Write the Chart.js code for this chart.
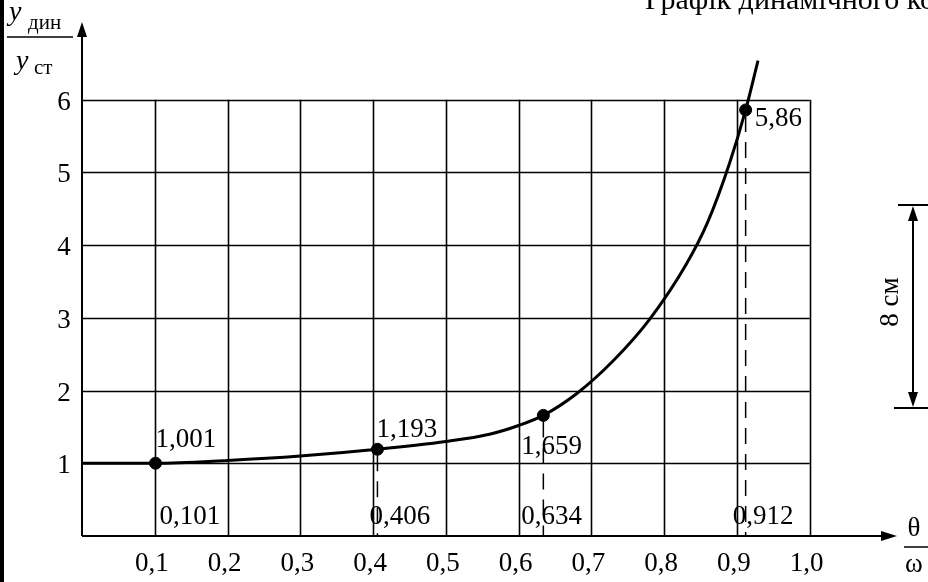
<!DOCTYPE html>
<html>
<head>
<meta charset="utf-8">
<script src="https://cdn.jsdelivr.net/npm/chart.js@4"></script>
<style>
  html, body { margin: 0; padding: 0; background: #fff; }
  canvas { display: block; }
</style>
</head>
<body>
<canvas id="dyn-chart" width="928" height="582"></canvas>
<script>
// grid ticks
const xTicks = [0.1, 0.2, 0.3, 0.4, 0.5, 0.6, 0.7, 0.8, 0.9, 1.0];
const yTicks = [1, 2, 3, 4, 5, 6];

// smooth curve y_dyn / y_st over theta / omega
const curveX = [0, 0.101, 0.2, 0.3, 0.406, 0.5, 0.56, 0.6, 0.634, 0.68, 0.73, 0.78, 0.83, 0.86, 0.89, 0.912, 0.929];
const curveY = [1, 1.001, 1.04, 1.10, 1.193, 1.30, 1.40, 1.52, 1.659, 1.96, 2.41, 2.98, 3.73, 4.32, 5.13, 5.86, 6.54];

// calculated points
const pointX = [0.101, 0.406, 0.634, 0.912];
const pointY = [1.001, 1.193, 1.659, 5.86];

const comma = v => String(v).replace('.', ',');
const FONT = '"Liberation Serif", "Times New Roman", serif';

// label placement around each point: value offset (vx, vy), abscissa offset ax, dashed drop or not
const labelPos = [
    { vx: 0, vy: -16, ax: 4, drop: false },
    { vx: -1, vy: -12, ax: -8, drop: true },
    { vx: -22, vy: 39, ax: -22, drop: true },
    { vx: 9, vy: 16, ax: -13, drop: true },
];

function line(ctx, x1, y1, x2, y2) {
    ctx.beginPath();
    ctx.moveTo(x1, y1);
    ctx.lineTo(x2, y2);
    ctx.stroke();
}

function arrowHead(ctx, x, y, dir) {
    // dir: 'up', 'down', 'right'
    ctx.beginPath();
    if (dir === 'up') {
        ctx.moveTo(x, y); ctx.lineTo(x - 5, y + 15); ctx.lineTo(x + 5, y + 15);
    } else if (dir === 'down') {
        ctx.moveTo(x, y); ctx.lineTo(x - 5, y - 15); ctx.lineTo(x + 5, y - 15);
    } else {
        ctx.moveTo(x, y); ctx.lineTo(x - 16, y - 5); ctx.lineTo(x - 16, y + 5);
    }
    ctx.closePath();
    ctx.fill();
}

const paper = {
    id: 'paper',
    beforeDatasetsDraw(chart) {
        const { ctx, chartArea, scales: { x, y } } = chart;
        const x0 = x.getPixelForValue(0);
        const y0 = y.getPixelForValue(0);
        const gx = x.getPixelForValue(xTicks[xTicks.length - 1]);
        const gy = y.getPixelForValue(yTicks[yTicks.length - 1]);

        ctx.save();
        ctx.strokeStyle = '#000';
        ctx.fillStyle = '#000';

        // page border on the left
        ctx.lineWidth = 4;
        line(ctx, 2, 0, 2, chart.height);

        // grid
        ctx.lineWidth = 1.6;
        xTicks.forEach(v => {
            const px = Math.round(x.getPixelForValue(v)) + 0.5;
            line(ctx, px, y0, px, gy);
        });
        yTicks.forEach(v => {
            const py = Math.round(y.getPixelForValue(v)) + 0.5;
            line(ctx, x0, py, gx, py);
        });

        // axes with arrows
        ctx.lineWidth = 2;
        line(ctx, x0, y0, x0, chartArea.top + 8);
        arrowHead(ctx, x0, chartArea.top, 'up');
        line(ctx, x0, y0, chartArea.right - 8, y0);
        arrowHead(ctx, chartArea.right, y0, 'right');

        // dashed drops from the points to the abscissa
        ctx.lineWidth = 1.5;
        ctx.setLineDash([16, 10]);
        pointX.forEach((v, i) => {
            if (!labelPos[i].drop) return;
            const px = x.getPixelForValue(v);
            line(ctx, px, y.getPixelForValue(pointY[i]) + 6, px, y0);
        });
        ctx.restore();
    },
    afterDatasetsDraw(chart) {
        const { ctx, scales: { x, y } } = chart;
        const x0 = x.getPixelForValue(0);
        const y0 = y.getPixelForValue(0);

        ctx.save();
        ctx.fillStyle = '#000';
        ctx.strokeStyle = '#000';
        ctx.font = `27px ${FONT}`;
        ctx.textBaseline = 'alphabetic';

        // tick labels
        ctx.textAlign = 'center';
        xTicks.forEach(v => {
            ctx.fillText(v.toFixed(1).replace('.', ','), x.getPixelForValue(v) - 3, y0 + 35);
        });
        yTicks.forEach(v => {
            ctx.fillText(String(v), x0 - 18, y.getPixelForValue(v) + 10);
        });

        // point values
        ctx.textAlign = 'left';
        pointX.forEach((v, i) => {
            const px = x.getPixelForValue(v);
            const py = y.getPixelForValue(pointY[i]);
            const p = labelPos[i];
            ctx.fillText(comma(pointY[i]), px + p.vx, py + p.vy);
            ctx.fillText(comma(v), px + p.ax, y0 - 12);
        });

        // ordinate title y_дин / y_ст
        ctx.font = `italic 28px ${FONT}`;
        ctx.fillText('y', 9, 20);
        ctx.fillText('y', 16, 69);
        ctx.font = `21px ${FONT}`;
        ctx.fillText('дин', 28, 29);
        ctx.fillText('ст', 34, 74);
        ctx.lineWidth = 1.5;
        line(ctx, 7, 37, 73, 37);

        // abscissa title θ / ω
        ctx.font = `27px ${FONT}`;
        ctx.textAlign = 'center';
        ctx.fillText('θ', 914, 536);
        ctx.fillText('ω', 914, 572);
        line(ctx, 904, 547, 928, 547);

        // scale bar "8 см"
        ctx.lineWidth = 2;
        line(ctx, 898, 205, 928, 205);
        line(ctx, 894, 408, 928, 408);
        line(ctx, 913, 215, 913, 398);
        arrowHead(ctx, 913, 206, 'up');
        arrowHead(ctx, 913, 407, 'down');
        ctx.save();
        ctx.translate(898, 302);
        ctx.rotate(-Math.PI / 2);
        ctx.textAlign = 'center';
        ctx.fillText('8 см', 0, 0);
        ctx.restore();

        // caption line cut off at the top edge
        ctx.textAlign = 'left';
        ctx.font = `30px ${FONT}`;
        ctx.fillText('Графік динамічного коефіцієнта', 645, 9);

        ctx.restore();
    }
};

new Chart(document.getElementById('dyn-chart'), {
    type: 'scatter',
    data: {
        datasets: [
            {
                type: 'line',
                label: 'curve',
                data: curveX.map((v, i) => ({ x: v, y: curveY[i] })),
                borderColor: '#000',
                borderWidth: 3,
                pointRadius: 0,
                cubicInterpolationMode: 'monotone',
                fill: false,
            },
            {
                label: 'points',
                data: pointX.map((v, i) => ({ x: v, y: pointY[i] })),
                backgroundColor: '#000',
                borderColor: '#000',
                pointRadius: 6,
            },
        ],
    },
    options: {
        responsive: false,
        animation: false,
        devicePixelRatio: 1,
        layout: { padding: { left: 82, right: 31, top: 22, bottom: 46 } },
        scales: {
            x: { type: 'linear', min: 0, max: 1.12, display: false },
            y: { type: 'linear', min: 0, max: 7.07, display: false },
        },
        plugins: {
            legend: { display: false },
            tooltip: { enabled: false },
        },
    },
    plugins: [paper],
});
</script>
</body>
</html>
